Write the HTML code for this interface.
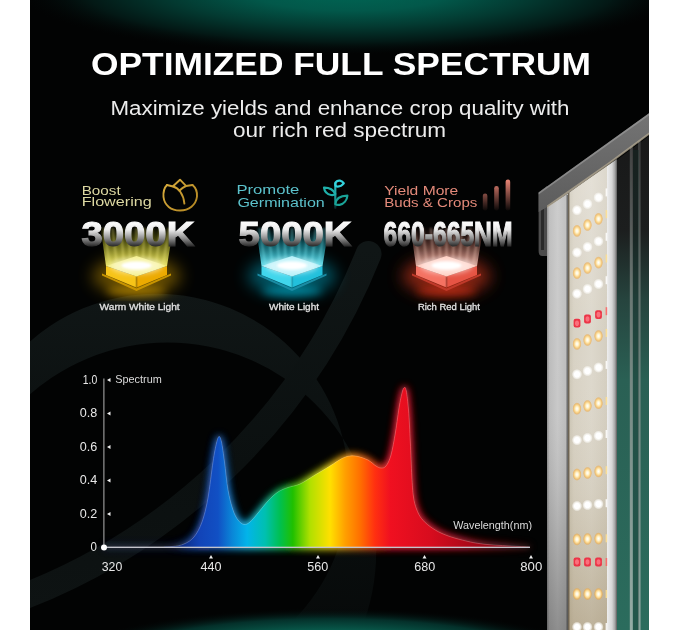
<!DOCTYPE html>
<html><head><meta charset="utf-8"><title>Optimized Full Spectrum</title>
<style>
html,body{margin:0;padding:0;background:#fff;}
body{width:680px;height:630px;overflow:hidden;position:relative;font-family:"Liberation Sans",sans-serif;}
svg{position:absolute;left:0;top:0;display:block;}
</style></head><body>
<svg width="680" height="630" viewBox="0 0 680 630">
<defs>
  <clipPath id="pc"><rect x="30" y="0" width="619" height="630"/></clipPath>
  <radialGradient id="gTop" cx="350" cy="-8" r="330" gradientUnits="userSpaceOnUse" gradientTransform="translate(350 -8) scale(1 0.19) translate(-350 8)">
    <stop offset="0" stop-color="#006654"/>
    <stop offset="0.3" stop-color="#02584a"/>
    <stop offset="0.55" stop-color="#033a31"/>
    <stop offset="0.8" stop-color="#031815"/>
    <stop offset="1" stop-color="#030606" stop-opacity="0"/>
  </radialGradient>
  <radialGradient id="gBot" cx="330" cy="662" r="270" gradientUnits="userSpaceOnUse" gradientTransform="translate(330 662) scale(1 0.2) translate(-330 -662)">
    <stop offset="0" stop-color="#12a48a"/>
    <stop offset="0.5" stop-color="#0a6a58"/>
    <stop offset="0.8" stop-color="#04302a"/>
    <stop offset="1" stop-color="#030606" stop-opacity="0"/>
  </radialGradient>
  <linearGradient id="spec" x1="175" y1="0" x2="530" y2="0" gradientUnits="userSpaceOnUse">
    <stop offset="0.000" stop-color="#0c2470"/>
    <stop offset="0.070" stop-color="#1244b8"/>
    <stop offset="0.121" stop-color="#1150c4"/>
    <stop offset="0.161" stop-color="#0a86d8"/>
    <stop offset="0.203" stop-color="#02b4ea"/>
    <stop offset="0.254" stop-color="#00c0b0"/>
    <stop offset="0.296" stop-color="#00c050"/>
    <stop offset="0.332" stop-color="#20c000"/>
    <stop offset="0.380" stop-color="#b0e000"/>
    <stop offset="0.437" stop-color="#ffe000"/>
    <stop offset="0.479" stop-color="#ffa000"/>
    <stop offset="0.521" stop-color="#ff7000"/>
    <stop offset="0.563" stop-color="#ff3010"/>
    <stop offset="0.606" stop-color="#f01020"/>
    <stop offset="0.718" stop-color="#d80c1e"/>
    <stop offset="0.859" stop-color="#a00818"/>
    <stop offset="1.000" stop-color="#600410"/>
  </linearGradient>
  <filter id="glow" x="-20%" y="-30%" width="140%" height="160%"><feGaussianBlur stdDeviation="4.5"/></filter>
  <filter id="b05" x="-5%" y="-5%" width="110%" height="110%"><feGaussianBlur stdDeviation="0.6"/></filter>
  <filter id="b1"><feGaussianBlur stdDeviation="1"/></filter>
  <filter id="b2" x="-50%" y="-50%" width="200%" height="200%"><feGaussianBlur stdDeviation="2.5"/></filter>
  <filter id="b4" x="-50%" y="-50%" width="200%" height="200%"><feGaussianBlur stdDeviation="4"/></filter>
  <filter id="b8" x="-50%" y="-50%" width="200%" height="200%"><feGaussianBlur stdDeviation="8"/></filter>
  <linearGradient id="bigTxt" x1="0" y1="221" x2="0" y2="246" gradientUnits="userSpaceOnUse">
    <stop offset="0" stop-color="#ffffff"/>
    <stop offset="0.35" stop-color="#ececec"/>
    <stop offset="0.7" stop-color="#8c8c8c"/>
    <stop offset="1" stop-color="#2c2c2c"/>
  </linearGradient>

  <linearGradient id="beam-y" x1="0" y1="264" x2="0" y2="226" gradientUnits="userSpaceOnUse"><stop offset="0" stop-color="#f4f070" stop-opacity="0.95"/><stop offset="0.5" stop-color="#d0d030" stop-opacity="0.5"/><stop offset="1" stop-color="#a0a000" stop-opacity="0"/></linearGradient>
  <linearGradient id="beam-c" x1="0" y1="264" x2="0" y2="226" gradientUnits="userSpaceOnUse"><stop offset="0" stop-color="#70eaf8" stop-opacity="0.95"/><stop offset="0.5" stop-color="#20b8cc" stop-opacity="0.5"/><stop offset="1" stop-color="#108090" stop-opacity="0"/></linearGradient>
  <linearGradient id="beam-r" x1="0" y1="264" x2="0" y2="226" gradientUnits="userSpaceOnUse"><stop offset="0" stop-color="#ffd4c8" stop-opacity="0.9"/><stop offset="0.5" stop-color="#d08070" stop-opacity="0.45"/><stop offset="1" stop-color="#904030" stop-opacity="0"/></linearGradient>
  <linearGradient id="barG" x1="0" y1="179" x2="0" y2="210" gradientUnits="userSpaceOnUse"><stop offset="0" stop-color="#f08878"/><stop offset="1" stop-color="#f08878" stop-opacity="0.05"/></linearGradient>
  <linearGradient id="sproutG" x1="0" y1="180" x2="0" y2="210" gradientUnits="userSpaceOnUse"><stop offset="0" stop-color="#2cc8c8"/><stop offset="1" stop-color="#0c7070"/></linearGradient>
  <linearGradient id="tulipG" x1="160" y1="180" x2="198" y2="212" gradientUnits="userSpaceOnUse"><stop offset="0" stop-color="#dcb040"/><stop offset="1" stop-color="#b08420"/></linearGradient>
  <linearGradient id="stemG" x1="0" y1="183" x2="0" y2="209" gradientUnits="userSpaceOnUse"><stop offset="0" stop-color="#2ac0c4"/><stop offset="0.7" stop-color="#168a84"/><stop offset="1" stop-color="#0c4a46" stop-opacity="0.4"/></linearGradient>

  <radialGradient id="gW"><stop offset="0" stop-color="#ffffff"/><stop offset="0.5" stop-color="#ffffff"/><stop offset="0.75" stop-color="#fbfaf6" stop-opacity="0.7"/><stop offset="1" stop-color="#ffffff" stop-opacity="0"/></radialGradient>
  <radialGradient id="gY"><stop offset="0" stop-color="#ffffff"/><stop offset="0.3" stop-color="#fff4d0"/><stop offset="0.6" stop-color="#fad48a"/><stop offset="0.82" stop-color="#f0b050" stop-opacity="0.6"/><stop offset="1" stop-color="#e8a040" stop-opacity="0"/></radialGradient>
  <linearGradient id="silverL" x1="547" y1="0" x2="568" y2="0" gradientUnits="userSpaceOnUse"><stop offset="0" stop-color="#8a8a8a"/><stop offset="0.12" stop-color="#b8b8b8"/><stop offset="0.5" stop-color="#c6c6c6"/><stop offset="1" stop-color="#b6b6b6"/></linearGradient>
  <linearGradient id="board" x1="568" y1="0" x2="607" y2="0" gradientUnits="userSpaceOnUse"><stop offset="0" stop-color="#6a5a48"/><stop offset="0.05" stop-color="#cec8b8"/><stop offset="0.15" stop-color="#d8d2c4"/><stop offset="0.6" stop-color="#ddd8cc"/><stop offset="1" stop-color="#d4cec0"/></linearGradient>
  <linearGradient id="boardV" x1="0" y1="180" x2="0" y2="630" gradientUnits="userSpaceOnUse"><stop offset="0" stop-color="#ffffff" stop-opacity="0.2"/><stop offset="0.35" stop-color="#ffffff" stop-opacity="0"/><stop offset="0.7" stop-color="#8a7448" stop-opacity="0.08"/><stop offset="1" stop-color="#7a6030" stop-opacity="0.32"/></linearGradient>
  <linearGradient id="silverR" x1="607" y1="0" x2="617" y2="0" gradientUnits="userSpaceOnUse"><stop offset="0" stop-color="#eeeeee"/><stop offset="0.5" stop-color="#d6d6d6"/><stop offset="0.8" stop-color="#a4a4a4"/><stop offset="1" stop-color="#5a5a5a"/></linearGradient>
  <linearGradient id="backR" x1="0" y1="130" x2="0" y2="630" gradientUnits="userSpaceOnUse"><stop offset="0" stop-color="#181818"/><stop offset="0.2" stop-color="#1c1e1e"/><stop offset="0.34" stop-color="#26443e"/><stop offset="0.5" stop-color="#2a6054"/><stop offset="1" stop-color="#2b6c5d"/></linearGradient>
  <linearGradient id="frameTop" x1="0" y1="113" x2="0" y2="213" gradientUnits="userSpaceOnUse"><stop offset="0" stop-color="#747474"/><stop offset="1" stop-color="#5c5c5c"/></linearGradient>
  <linearGradient id="ringG" x1="0" y1="290" x2="0" y2="630" gradientUnits="userSpaceOnUse"><stop offset="0" stop-color="#101616"/><stop offset="0.4" stop-color="#0c1111"/><stop offset="1" stop-color="#070a0a"/></linearGradient>
  <linearGradient id="bandG" x1="0" y1="250" x2="0" y2="610" gradientUnits="userSpaceOnUse"><stop offset="0" stop-color="#101616"/><stop offset="0.6" stop-color="#0b1010"/><stop offset="1" stop-color="#0e1313"/></linearGradient>
  <linearGradient id="ringMaskG" x1="300" y1="0" x2="380" y2="0" gradientUnits="userSpaceOnUse"><stop offset="0" stop-color="#fff"/><stop offset="1" stop-color="#000"/></linearGradient>
  <mask id="ringMask" maskUnits="userSpaceOnUse" x="0" y="0" width="680" height="630"><rect x="0" y="0" width="680" height="630" fill="url(#ringMaskG)"/></mask>
  <linearGradient id="silverV" x1="0" y1="190" x2="0" y2="630" gradientUnits="userSpaceOnUse"><stop offset="0" stop-color="#ffffff" stop-opacity="0.12"/><stop offset="0.5" stop-color="#ffffff" stop-opacity="0.05"/><stop offset="0.75" stop-color="#000000" stop-opacity="0.1"/><stop offset="1" stop-color="#000000" stop-opacity="0.28"/></linearGradient>
  <linearGradient id="lineG" x1="0" y1="140" x2="0" y2="630" gradientUnits="userSpaceOnUse"><stop offset="0" stop-color="#4a4a4a"/><stop offset="0.3" stop-color="#7a8480"/><stop offset="1" stop-color="#b0bcb8"/></linearGradient>
</defs>

<g clip-path="url(#pc)">
  <rect x="30" y="0" width="619" height="630" fill="#020303"/>
    <g opacity="1">
    <path d="M348.7,485.7 A192,192 0 1 0 -35.3,485.7 A192,192 0 1 0 348.7,485.7 Z M376.2,551.4 A208.7,208.7 0 1 1 -41.2,551.4 A208.7,208.7 0 1 1 376.2,551.4 Z" fill="url(#ringG)" fill-rule="evenodd"/>
    <path d="M368.5,254 A611,611 0 0 1 0,605.3" fill="none" stroke="url(#bandG)" stroke-width="26" stroke-linecap="round"/>
  </g>
  <rect x="30" y="0" width="619" height="80" fill="url(#gTop)"/>
  <rect x="30" y="580" width="619" height="50" fill="url(#gBot)"/>
</g>

<!-- heading -->
<text x="91" y="74.5" font-family="Liberation Sans, sans-serif" font-weight="bold" font-size="30.5" fill="#fff" textLength="500" lengthAdjust="spacingAndGlyphs">OPTIMIZED FULL SPECTRUM</text>
<text x="110.5" y="115" font-family="Liberation Sans, sans-serif" font-size="19.5" fill="#ececec" textLength="459" lengthAdjust="spacingAndGlyphs">Maximize yields and enhance crop quality with</text>
<text x="233" y="137" font-family="Liberation Sans, sans-serif" font-size="19.5" fill="#ececec" textLength="213" lengthAdjust="spacingAndGlyphs">our rich red spectrum</text>



<!-- LIGHT BAR -->
<g id="lightbar">
  <path d="M606,168 L649,136 L649,630 L606,630 Z" fill="url(#backR)"/>
  <rect x="629.8" y="140" width="3" height="490" fill="url(#lineG)" opacity="0.8" filter="url(#b05)"/>
  <rect x="638" y="136" width="2.6" height="494" fill="url(#lineG)" opacity="0.7" filter="url(#b05)"/>
  <rect x="633" y="150" width="6" height="480" fill="#14302a" opacity="0.35"/>
  <path d="M538.6,192.4 L547,186 L547,256 L542,256 Q538.6,256 538.6,251 Z" fill="#4c4c4c"/>
  <rect x="541" y="205" width="3" height="45" fill="#2a2a2a"/>
  <path d="M547,207 L568,193 L568,630 L547,630 Z" fill="url(#silverL)"/>
  <path d="M547,207 L568,193 L568,630 L547,630 Z" fill="url(#silverV)"/>
  <rect x="566.5" y="195" width="1.5" height="435" fill="#3a3a3a" opacity="0.6"/>
  <path d="M568,193 L607,166 L607,630 L568,630 Z" fill="url(#board)"/>
  <path d="M568,193 L607,166 L607,630 L568,630 Z" fill="url(#boardV)"/>
  <rect x="568" y="193" width="1.3" height="437" fill="#6a6252" opacity="0.9"/>
  <path d="M607,166 L617,159 L617,630 L607,630 Z" fill="url(#silverR)"/>
  <path d="M538.6,192.4 L649,113.3 L649,134 L607,165 L568,193.5 L547,207 L538.6,212 Z" fill="url(#frameTop)"/>
  <path d="M538.6,192.4 L649,113.3 L649,115.5 L538.6,194.6 Z" fill="#a0a0a0" opacity="0.6"/>
  <path d="M547,205.5 L607,163.5 L649,132.5 L649,135 L607,166 L547,208 Z" fill="#b8ac94" opacity="0.7"/>
<g filter="url(#b05)"><ellipse cx="577.0" cy="210.2" rx="5.2" ry="5.4" fill="url(#gW)"/><ellipse cx="587.5" cy="204.0" rx="5.2" ry="5.4" fill="url(#gW)"/><ellipse cx="598.5" cy="197.5" rx="5.2" ry="5.4" fill="url(#gW)"/><rect x="605.6" y="188.4" width="1.6" height="8" fill="#ffffff" opacity="0.85"/><ellipse cx="577.0" cy="230.9" rx="4.6" ry="6.4" fill="url(#gY)"/><ellipse cx="587.5" cy="225.0" rx="4.6" ry="6.4" fill="url(#gY)"/><ellipse cx="598.5" cy="218.9" rx="4.6" ry="6.4" fill="url(#gY)"/><rect x="605.6" y="210.1" width="1.6" height="8" fill="#ffe090" opacity="0.85"/><ellipse cx="577.0" cy="252.5" rx="5.2" ry="5.4" fill="url(#gW)"/><ellipse cx="587.5" cy="247.0" rx="5.2" ry="5.4" fill="url(#gW)"/><ellipse cx="598.5" cy="241.3" rx="5.2" ry="5.4" fill="url(#gW)"/><rect x="605.6" y="232.8" width="1.6" height="8" fill="#ffffff" opacity="0.85"/><ellipse cx="577.0" cy="273.1" rx="4.6" ry="6.4" fill="url(#gY)"/><ellipse cx="587.5" cy="268.0" rx="4.6" ry="6.4" fill="url(#gY)"/><ellipse cx="598.5" cy="262.6" rx="4.6" ry="6.4" fill="url(#gY)"/><rect x="605.6" y="254.5" width="1.6" height="8" fill="#ffe090" opacity="0.85"/><ellipse cx="577.0" cy="293.7" rx="5.2" ry="5.4" fill="url(#gW)"/><ellipse cx="587.5" cy="289.0" rx="5.2" ry="5.4" fill="url(#gW)"/><ellipse cx="598.5" cy="284.0" rx="5.2" ry="5.4" fill="url(#gW)"/><rect x="605.6" y="276.2" width="1.6" height="8" fill="#ffffff" opacity="0.85"/><rect x="573.6" y="318.8" width="6.8" height="8.8" rx="2" fill="#ec3446"/><ellipse cx="577.0" cy="323.2" rx="2" ry="2.8" fill="#ff8088" opacity="0.8"/><rect x="584.1" y="314.6" width="6.8" height="8.8" rx="2" fill="#ec3446"/><ellipse cx="587.5" cy="319.0" rx="2" ry="2.8" fill="#ff8088" opacity="0.8"/><rect x="595.1" y="310.2" width="6.8" height="8.8" rx="2" fill="#ec3446"/><ellipse cx="598.5" cy="314.6" rx="2" ry="2.8" fill="#ff8088" opacity="0.8"/><rect x="605.6" y="307.2" width="1.6" height="8" fill="#ff6060" opacity="0.85"/><ellipse cx="577.0" cy="343.9" rx="4.6" ry="6.4" fill="url(#gY)"/><ellipse cx="587.5" cy="340.0" rx="4.6" ry="6.4" fill="url(#gY)"/><ellipse cx="598.5" cy="336.0" rx="4.6" ry="6.4" fill="url(#gY)"/><rect x="605.6" y="328.9" width="1.6" height="8" fill="#ffe090" opacity="0.85"/><ellipse cx="577.0" cy="374.3" rx="5.2" ry="5.4" fill="url(#gW)"/><ellipse cx="587.5" cy="371.0" rx="5.2" ry="5.4" fill="url(#gW)"/><ellipse cx="598.5" cy="367.5" rx="5.2" ry="5.4" fill="url(#gW)"/><rect x="605.6" y="360.9" width="1.6" height="8" fill="#ffffff" opacity="0.85"/><ellipse cx="577.0" cy="408.7" rx="4.6" ry="6.4" fill="url(#gY)"/><ellipse cx="587.5" cy="406.0" rx="4.6" ry="6.4" fill="url(#gY)"/><ellipse cx="598.5" cy="403.2" rx="4.6" ry="6.4" fill="url(#gY)"/><rect x="605.6" y="397.0" width="1.6" height="8" fill="#ffe090" opacity="0.85"/><ellipse cx="577.0" cy="440.1" rx="5.2" ry="5.4" fill="url(#gW)"/><ellipse cx="587.5" cy="438.0" rx="5.2" ry="5.4" fill="url(#gW)"/><ellipse cx="598.5" cy="435.8" rx="5.2" ry="5.4" fill="url(#gW)"/><rect x="605.6" y="430.0" width="1.6" height="8" fill="#ffffff" opacity="0.85"/><ellipse cx="577.0" cy="474.5" rx="4.6" ry="6.4" fill="url(#gY)"/><ellipse cx="587.5" cy="473.0" rx="4.6" ry="6.4" fill="url(#gY)"/><ellipse cx="598.5" cy="471.4" rx="4.6" ry="6.4" fill="url(#gY)"/><rect x="605.6" y="466.2" width="1.6" height="8" fill="#ffe090" opacity="0.85"/><ellipse cx="577.0" cy="506.0" rx="5.2" ry="5.4" fill="url(#gW)"/><ellipse cx="587.5" cy="505.0" rx="5.2" ry="5.4" fill="url(#gW)"/><ellipse cx="598.5" cy="504.0" rx="5.2" ry="5.4" fill="url(#gW)"/><rect x="605.6" y="499.2" width="1.6" height="8" fill="#ffffff" opacity="0.85"/><ellipse cx="577.0" cy="539.4" rx="4.6" ry="6.4" fill="url(#gY)"/><ellipse cx="587.5" cy="539.0" rx="4.6" ry="6.4" fill="url(#gY)"/><ellipse cx="598.5" cy="538.6" rx="4.6" ry="6.4" fill="url(#gY)"/><rect x="605.6" y="534.3" width="1.6" height="8" fill="#ffe090" opacity="0.85"/><rect x="573.6" y="557.6" width="6.8" height="8.8" rx="2" fill="#ec3446"/><ellipse cx="577.0" cy="562.0" rx="2" ry="2.8" fill="#ff8088" opacity="0.8"/><rect x="584.1" y="557.6" width="6.8" height="8.8" rx="2" fill="#ec3446"/><ellipse cx="587.5" cy="562.0" rx="2" ry="2.8" fill="#ff8088" opacity="0.8"/><rect x="595.1" y="557.6" width="6.8" height="8.8" rx="2" fill="#ec3446"/><ellipse cx="598.5" cy="562.0" rx="2" ry="2.8" fill="#ff8088" opacity="0.8"/><rect x="605.6" y="558.0" width="1.6" height="8" fill="#ff6060" opacity="0.85"/><ellipse cx="577.0" cy="594.0" rx="4.6" ry="6.4" fill="url(#gY)"/><ellipse cx="587.5" cy="594.0" rx="4.6" ry="6.4" fill="url(#gY)"/><ellipse cx="598.5" cy="594.0" rx="4.6" ry="6.4" fill="url(#gY)"/><rect x="605.6" y="590.0" width="1.6" height="8" fill="#ffe090" opacity="0.85"/><ellipse cx="577.0" cy="627.0" rx="5.2" ry="5.4" fill="url(#gW)"/><ellipse cx="587.5" cy="627.0" rx="5.2" ry="5.4" fill="url(#gW)"/><ellipse cx="598.5" cy="627.0" rx="5.2" ry="5.4" fill="url(#gW)"/><rect x="605.6" y="623.0" width="1.6" height="8" fill="#ffffff" opacity="0.85"/></g>
</g>

<!-- FEATURES -->
<g font-family="Liberation Sans, sans-serif" font-size="13">
  <text x="81.7" y="194.5" fill="#dcd8a2" textLength="39" lengthAdjust="spacingAndGlyphs">Boost</text>
  <text x="81.7" y="206.3" fill="#dcd8a2" textLength="70" lengthAdjust="spacingAndGlyphs">Flowering</text>
  <text x="236.4" y="194.3" fill="#5cc2cc" textLength="63" lengthAdjust="spacingAndGlyphs">Promote</text>
  <text x="237.4" y="206.5" fill="#5cc2cc" textLength="87.4" lengthAdjust="spacingAndGlyphs">Germination</text>
  <text x="384.2" y="194.5" fill="#e48a7a" textLength="74" lengthAdjust="spacingAndGlyphs">Yield More</text>
  <text x="384.2" y="206.5" fill="#e48a7a" textLength="93.2" lengthAdjust="spacingAndGlyphs">Buds &amp; Crops</text>
</g>
<!-- tulip icon -->
<g fill="none" stroke="url(#tulipG)" stroke-width="1.9" stroke-linejoin="round" stroke-linecap="round">
  <path d="M167,185 C163.5,188.5 163.2,193 163.5,197 C164.5,205.5 171,210.5 180,210.5 C189,210.5 196,205 197,196.5 C197.3,192 195.5,187.5 192.5,185"/>
  <path d="M167,185 L173,186.5 C178.5,188 183.5,194 184.4,203.6"/>
  <path d="M192.5,185 L186,186 C183.5,187 181.5,188.5 179.5,190.5"/>
  <path d="M173,186.3 L180,179.7 L186,185.8"/>
</g>
<!-- sprout icon -->
<g fill="none" stroke-width="2.2" stroke-linecap="round" stroke-linejoin="round">
  <path d="M335.3,183 L335.3,208" stroke="url(#stemG)"/>
  <path d="M335.3,184 C335.3,181.5 338,180.3 340,180.6 C342,181 343.2,182.3 343.8,183.4 C342,185.6 339,186.8 336.8,186.5 C335.8,186.3 335.3,185.5 335.3,184 Z" stroke="#34d2dc"/>
  <path d="M335.3,194 C333.3,189.6 329.3,187.6 324,187.7 C324.5,191.6 327,194.4 331,195 C333,195.3 334.5,194.9 335.3,194 Z" stroke="#1fb0aa"/>
  <path d="M335.3,204 C335.8,199 339.6,196 347.4,195.7 C347,200 344,204 339.6,204.8 C337.6,205.2 336.2,204.8 335.3,204 Z" stroke="#1aa498"/>
</g>
<!-- bars icon -->
<g fill="url(#barG)">
  <rect x="482.8" y="193.5" width="4.6" height="17" rx="2.3"/>
  <rect x="494.2" y="186" width="4.6" height="24.5" rx="2.3"/>
  <rect x="505.6" y="179.5" width="4.6" height="31" rx="2.3"/>
</g>
<g id="chip-y">
  <ellipse cx="136.5" cy="291" rx="30" ry="5" fill="#f0b000" opacity="0.55" filter="url(#b4)"/>
  <ellipse cx="136.5" cy="276" rx="44" ry="19" fill="#e0a800" opacity="0.45" filter="url(#b8)"/>
  <path d="M106.0,266 L99.5,220 L174.5,220 L167.0,266 Z" fill="url(#beam-y)" opacity="0.95"/>
  <g opacity="0.5" stroke="#f8f080" stroke-width="1.5" filter="url(#b1)"><path d="M109.5,263.0 L104.1,228"/><path d="M116.5,261.4 L112.5,228"/><path d="M123.5,259.9 L120.9,228"/><path d="M130.0,258.4 L128.7,228"/><path d="M136.5,257.0 L136.5,228"/><path d="M143.0,258.4 L144.3,228"/><path d="M149.5,259.9 L152.1,228"/><path d="M156.5,261.4 L160.5,228"/><path d="M163.5,263.0 L168.9,228"/></g>
  <path d="M102.0,273.5 L136.5,288.5 L171.0,273.5 L171.0,275.5 L136.5,291 L102.0,275.5 Z" fill="#c89400"/>
  <path d="M106.0,266 L136.5,276.5 L136.5,287.5 L106.0,275 Z" fill="#f6c418"/>
  <path d="M136.5,276.5 L167.0,266 L167.0,275 L136.5,287.5 Z" fill="#ecaa00"/>
  <rect x="135.3" y="277" width="2.4" height="10.5" fill="#000" opacity="0.15"/>
  <path d="M106.0,266 L136.5,256 L167.0,266 L136.5,276.5 Z" fill="#f4ee80" filter="url(#b05)"/>
  <ellipse cx="136.5" cy="266" rx="26" ry="8" fill="#fff" opacity="0.5" filter="url(#b2)"/>
  <ellipse cx="136.5" cy="265.5" rx="15" ry="4" fill="#fff" filter="url(#b1)"/>
</g><g id="chip-c">
  <ellipse cx="292" cy="291" rx="30" ry="5" fill="#00c8e8" opacity="0.55" filter="url(#b4)"/>
  <ellipse cx="292" cy="276" rx="44" ry="19" fill="#00b8d8" opacity="0.45" filter="url(#b8)"/>
  <path d="M261.5,266 L255,220 L330,220 L322.5,266 Z" fill="url(#beam-c)" opacity="0.95"/>
  <g opacity="0.5" stroke="#80f0fa" stroke-width="1.5" filter="url(#b1)"><path d="M265.0,263.0 L259.6,228"/><path d="M272.0,261.4 L268.0,228"/><path d="M279.0,259.9 L276.4,228"/><path d="M285.5,258.4 L284.2,228"/><path d="M292.0,257.0 L292.0,228"/><path d="M298.5,258.4 L299.8,228"/><path d="M305.0,259.9 L307.6,228"/><path d="M312.0,261.4 L316.0,228"/><path d="M319.0,263.0 L324.4,228"/></g>
  <path d="M257.5,273.5 L292,288.5 L326.5,273.5 L326.5,275.5 L292,291 L257.5,275.5 Z" fill="#1a8ca4"/>
  <path d="M261.5,266 L292,276.5 L292,287.5 L261.5,275 Z" fill="#40d6ec"/>
  <path d="M292,276.5 L322.5,266 L322.5,275 L292,287.5 Z" fill="#22c0dc"/>
  <rect x="290.8" y="277" width="2.4" height="10.5" fill="#000" opacity="0.15"/>
  <path d="M261.5,266 L292,256 L322.5,266 L292,276.5 Z" fill="#a8eef8" filter="url(#b05)"/>
  <ellipse cx="292" cy="266" rx="26" ry="8" fill="#fff" opacity="0.5" filter="url(#b2)"/>
  <ellipse cx="292" cy="265.5" rx="15" ry="4" fill="#fff" filter="url(#b1)"/>
</g><g id="chip-r">
  <ellipse cx="446.5" cy="291" rx="30" ry="5" fill="#ff3010" opacity="0.55" filter="url(#b4)"/>
  <ellipse cx="446.5" cy="276" rx="44" ry="19" fill="#f04020" opacity="0.55" filter="url(#b8)"/>
  <path d="M416.0,266 L409.5,220 L484.5,220 L477.0,266 Z" fill="url(#beam-r)" opacity="0.85"/>
  <g opacity="0.5" stroke="#ffd0c0" stroke-width="1.5" filter="url(#b1)"><path d="M419.5,263.0 L414.1,228"/><path d="M426.5,261.4 L422.5,228"/><path d="M433.5,259.9 L430.9,228"/><path d="M440.0,258.4 L438.7,228"/><path d="M446.5,257.0 L446.5,228"/><path d="M453.0,258.4 L454.3,228"/><path d="M459.5,259.9 L462.1,228"/><path d="M466.5,261.4 L470.5,228"/><path d="M473.5,263.0 L478.9,228"/></g>
  <path d="M412.0,273.5 L446.5,288.5 L481.0,273.5 L481.0,275.5 L446.5,291 L412.0,275.5 Z" fill="#c03a2a"/>
  <path d="M416.0,266 L446.5,276.5 L446.5,287.5 L416.0,275 Z" fill="#f47262"/>
  <path d="M446.5,276.5 L477.0,266 L477.0,275 L446.5,287.5 Z" fill="#e65444"/>
  <rect x="445.3" y="277" width="2.4" height="10.5" fill="#000" opacity="0.15"/>
  <path d="M416.0,266 L446.5,256 L477.0,266 L446.5,276.5 Z" fill="#ffc8ba" filter="url(#b05)"/>
  <ellipse cx="446.5" cy="266" rx="26" ry="8" fill="#fff" opacity="0.5" filter="url(#b2)"/>
  <ellipse cx="446.5" cy="265.5" rx="15" ry="4" fill="#fff" filter="url(#b1)"/>
</g>
<!-- big labels -->
<g font-family="Liberation Sans, sans-serif" font-weight="bold" font-size="35" fill="url(#bigTxt)" stroke="url(#bigTxt)" stroke-width="1.2">
  <text x="81.5" y="245.5" textLength="112.8" lengthAdjust="spacingAndGlyphs">3000K</text>
  <text x="238.6" y="245.5" textLength="112.9" lengthAdjust="spacingAndGlyphs">5000K</text>
  <text x="383.6" y="245.5" textLength="128.9" lengthAdjust="spacingAndGlyphs">660-665NM</text>
</g>
<g font-family="Liberation Sans, sans-serif" font-size="9.5" fill="#e2e2e2" stroke="#e2e2e2" stroke-width="0.3" text-anchor="middle">
  <text x="139.6" y="310.4" textLength="80" lengthAdjust="spacingAndGlyphs">Warm White Light</text>
  <text x="294" y="310.4" textLength="50" lengthAdjust="spacingAndGlyphs">White Light</text>
  <text x="448.9" y="310.4" textLength="62" lengthAdjust="spacingAndGlyphs">Rich Red Light</text>
</g>

<!-- CHART -->
<g id="chart">
  <path id="curve" d="M104,547 C111.7,547.0 138.7,547.1 150,547 C161.3,546.9 166.3,547.0 172,546.5 C177.7,546.0 180.3,545.6 184,544 C187.7,542.4 191.0,540.7 194,537 C197.0,533.3 199.7,528.5 202,522 C204.3,515.5 206.2,508.0 208,498 C209.8,488.0 211.6,471.2 213,462 C214.4,452.8 215.5,447.2 216.5,443 C217.5,438.8 218.2,436.7 219,436.5 C219.8,436.3 220.6,437.8 221.5,442 C222.4,446.2 223.4,454.0 224.5,462 C225.6,470.0 226.6,482.0 228,490 C229.4,498.0 231.3,505.0 233,510 C234.7,515.0 236.2,517.6 238,520 C239.8,522.4 242.0,524.2 244,524.5 C246.0,524.8 247.7,523.9 250,522 C252.3,520.1 255.0,516.5 258,513 C261.0,509.5 264.7,504.5 268,501 C271.3,497.5 274.7,494.2 278,492 C281.3,489.8 284.3,488.8 288,487.5 C291.7,486.2 295.5,486.1 300,484 C304.5,481.9 310.0,478.0 315,475 C320.0,472.0 325.5,468.8 330,466 C334.5,463.2 338.7,460.2 342,458.5 C345.3,456.8 347.3,456.3 350,456 C352.7,455.7 355.0,455.8 358,456.5 C361.0,457.2 365.0,458.4 368,460 C371.0,461.6 373.8,464.7 376,466 C378.2,467.3 379.3,468.0 381,468 C382.7,468.0 384.3,468.2 386,466 C387.7,463.8 389.4,460.7 391,455 C392.6,449.3 394.1,440.3 395.5,432 C396.9,423.7 398.3,411.8 399.5,405 C400.7,398.2 401.7,393.9 402.5,391 C403.3,388.1 403.9,387.5 404.5,387.5 C405.1,387.5 405.6,387.2 406.3,391 C407.0,394.8 407.8,401.5 408.5,410 C409.2,418.5 409.8,431.0 410.3,442 C410.9,453.0 411.3,466.8 411.8,476 C412.3,485.2 412.7,491.5 413.5,497 C414.3,502.5 415.2,505.4 416.5,509 C417.8,512.6 419.2,515.6 421.5,518.5 C423.8,521.4 426.6,524.0 430,526.5 C433.4,529.0 437.0,531.3 442,533.5 C447.0,535.7 452.8,537.7 460,539.5 C467.2,541.3 473.3,543.0 485,544.3 C496.7,545.5 522.5,546.5 530,547 Z" fill="url(#spec)"/>
</g>
<use href="#curve" filter="url(#glow)" opacity="0.95"/>
<use href="#curve" stroke="url(#spec)" stroke-width="3" fill="none" filter="url(#glow)" opacity="0.6"/>
<use href="#curve" fill="none" stroke="#ffe8e0" stroke-width="3" opacity="0.18" filter="url(#b2)"/>
<use href="#curve"/>
<use href="#curve" fill="none" stroke="#ffffff" stroke-width="0.7" opacity="0.3"/>

<!-- axes -->
<g fill="#e6e6e6" stroke="none">
  <rect x="103.4" y="378.5" width="1" height="169" fill="#b4b4b4"/>
  <rect x="104" y="546.8" width="426" height="1.2" fill="#c4c4cc"/>
  <circle cx="104" cy="547.5" r="3" fill="#fff"/>
</g>
<g font-family="Liberation Sans, sans-serif" font-size="12.3" fill="#e8e8e8" text-anchor="end">
  <text x="97.2" y="384.3" textLength="14.5" lengthAdjust="spacingAndGlyphs">1.0</text>
  <text x="97.2" y="417.3" textLength="17.5" lengthAdjust="spacingAndGlyphs">0.8</text>
  <text x="97.2" y="450.9" textLength="17.5" lengthAdjust="spacingAndGlyphs">0.6</text>
  <text x="97.2" y="484.4" textLength="17.5" lengthAdjust="spacingAndGlyphs">0.4</text>
  <text x="97.2" y="518.2" textLength="17.5" lengthAdjust="spacingAndGlyphs">0.2</text>
  <text x="97" y="551.3" textLength="6.4" lengthAdjust="spacingAndGlyphs">0</text>
</g>
<g fill="#f0f0f0">
  <path d="M107,380 L110.5,378 L110.5,382 Z"/>
  <path d="M107,413.5 L110.5,411.5 L110.5,415.5 Z"/>
  <path d="M107,447 L110.5,445 L110.5,449 Z"/>
  <path d="M107,480.5 L110.5,478.5 L110.5,482.5 Z"/>
  <path d="M107,514 L110.5,512 L110.5,516 Z"/>
  <path d="M211,555 L209,558.5 L213,558.5 Z"/>
  <path d="M318,555 L316,558.5 L320,558.5 Z"/>
  <path d="M424.5,555 L422.5,558.5 L426.5,558.5 Z"/>
  <path d="M531,555 L529,558.5 L533,558.5 Z"/>
</g>
<g font-family="Liberation Sans, sans-serif" font-size="12.3" fill="#e8e8e8" text-anchor="middle">
  <text x="112" y="571.4" textLength="20.5" lengthAdjust="spacingAndGlyphs">320</text>
  <text x="211.1" y="571.4" textLength="21" lengthAdjust="spacingAndGlyphs">440</text>
  <text x="317.8" y="571.4" textLength="21" lengthAdjust="spacingAndGlyphs">560</text>
  <text x="424.8" y="571.4" textLength="21" lengthAdjust="spacingAndGlyphs">680</text>
  <text x="531.3" y="571.4" textLength="22" lengthAdjust="spacingAndGlyphs">800</text>
</g>
<text x="115.2" y="383.3" font-family="Liberation Sans, sans-serif" font-size="10.8" fill="#dcdcdc" textLength="46.6" lengthAdjust="spacingAndGlyphs">Spectrum</text>
<text x="453.2" y="528.8" font-family="Liberation Sans, sans-serif" font-size="10.8" fill="#dcdcdc" textLength="78.8" lengthAdjust="spacingAndGlyphs">Wavelength(nm)</text>

</svg>
</body></html>
